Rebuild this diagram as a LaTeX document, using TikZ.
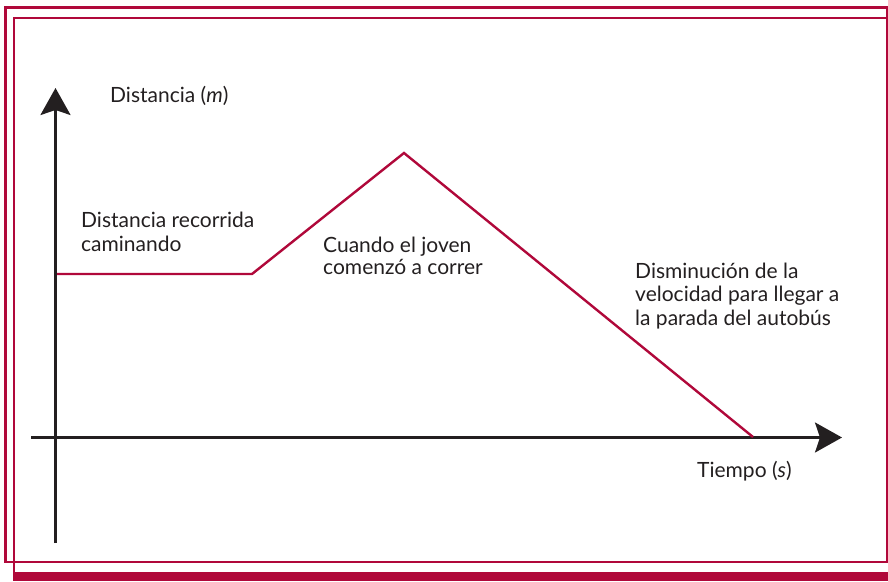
\documentclass[tikz,border=0pt]{standalone}
\usepackage{fontspec}
\setmainfont{Lato}
\usetikzlibrary{arrows.meta}
\definecolor{frame}{RGB}{176,8,58}
\definecolor{ink}{RGB}{35,31,32}
\tikzset{
  frameline/.style={draw=frame, line width=2.4pt},
  axisline/.style={draw=ink, line width=2.6pt, -{Stealth[length=27pt,width=30pt,inset=5pt]}},
  graphline/.style={draw=frame, line width=2.4pt, line join=miter},
  lbl/.style={inner sep=0pt, anchor=base west, text=ink, font=\fontsize{21}{25}\selectfont}
}
\begin{document}
\begin{tikzpicture}[x=1pt,y=-1pt]
\useasboundingbox (0,0) rectangle (888,581);
% frames
\draw[frameline] (5.5,7.5) rectangle (886.8,562);
\draw[frameline] (13.8,573) -- (13.8,18) -- (886.8,18);
\fill[frame] (12.6,572) rectangle (888,581);
% axes
\coordinate (ybot) at (55.5,543);
\coordinate (ytop) at (55.5,88);
\coordinate (xleft) at (31,437.5);
\coordinate (xright) at (842,437.5);
\draw[axisline] (ybot) -- (ytop);
\draw[axisline] (xleft) -- (xright);
% graph
\coordinate (p0) at (57,274);
\coordinate (p1) at (252,274);
\coordinate (p2) at (404,153);
\coordinate (p3) at (753,437);
\draw[graphline] (p0) -- (p1) -- (p2) -- (p3);
% labels
\node[lbl] (ylab) at (110,102) {Distancia (\textit{m})};
\node[lbl] (xlab) at (697,477) {Tiempo (\textit{s})};
\node[lbl] (a1) at (81,227) {Distancia recorrida};
\node[lbl] (a2) at (81,251) {caminando};
\node[lbl] (b1) at (323,252) {Cuando el joven};
\node[lbl] (b2) at (323,274) {comenzó a correr};
\node[lbl] (c1) at (635,278) {Disminución de la};
\node[lbl] (c2) at (635,301.5) {velocidad para llegar a};
\node[lbl] (c3) at (635,325) {la parada del autobús};
\end{tikzpicture}
\end{document}
